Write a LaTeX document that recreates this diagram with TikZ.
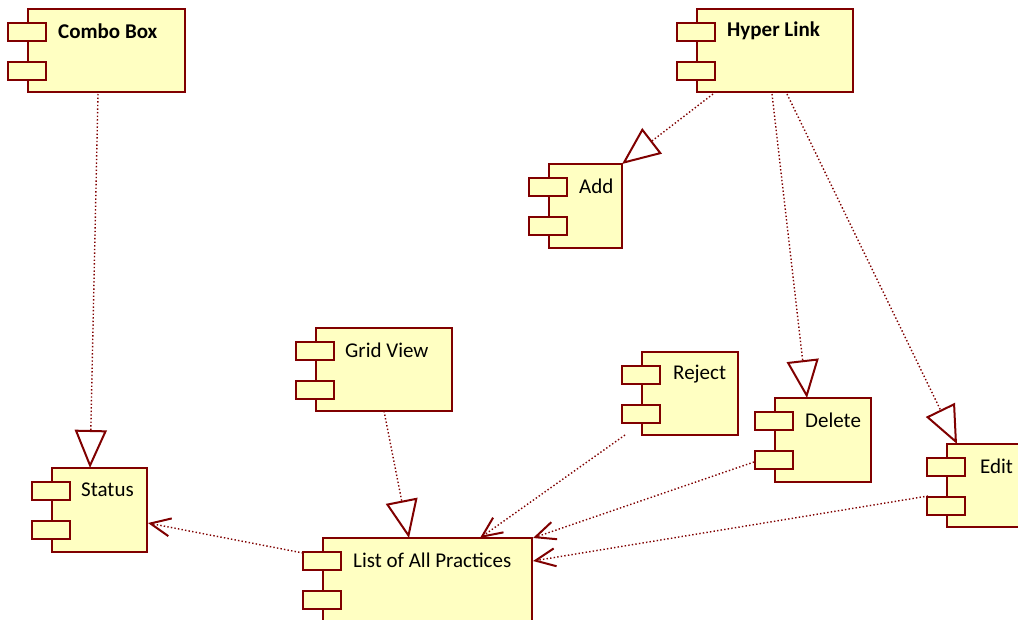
\documentclass[tikz,border=0pt]{standalone}
\usepackage{fontspec}
\setmainfont{Carlito}
\usetikzlibrary{arrows.meta,calc}
\definecolor{umlred}{RGB}{128,0,0}
\definecolor{umlfill}{RGB}{255,255,194}
\tikzset{
  compbox/.style={draw=umlred, fill=umlfill, line width=2pt, inner sep=0pt, outer sep=0pt, rectangle},
  portbox/.style={compbox, minimum width=38pt, minimum height=18pt},
  comptext/.style={inner sep=0pt, anchor=west, font=\fontsize{21}{25}\selectfont},
  dep/.style={draw=umlred, line width=1.4pt, dash pattern=on 1.4pt off 2.2pt},
  realize/.style={dep, -{Triangle[open, length=38pt, width=32pt, line width=2pt]}},
  usedep/.style={dep, -{Straight Barb[length=20pt, width=18pt, line width=2pt]}},
}
\newcommand{\umlcomp}[8][30]{%
  \node[compbox, minimum width=#5pt, minimum height=#6pt, anchor=north west] (#2) at (#3,#4) {};
  \node[portbox, anchor=north west] (#2-p1) at ($(#2.north west)+(-20,14)$) {};
  \node[portbox, anchor=north west] (#2-p2) at ($(#2.north west)+(-20,53)$) {};
  \node[comptext] (#2-t) at ($(#2.north west)+(#1,22)$) {#8#7};
}
\begin{document}
\begin{tikzpicture}[x=1pt, y=-1pt]
  \clip (0,0) rectangle (1018,619);
  \fill[white] (0,0) rectangle (1018,619);
  \umlcomp{combo}{28}{9}{157}{83}{Combo Box}{\bfseries}
  \umlcomp{hyper}{697}{9}{156}{83}{Hyper Link}{\bfseries}
  \umlcomp{add}{549}{164}{73}{84}{Add}{}
  \umlcomp[29]{status}{52}{468}{95}{84}{Status}{}
  \umlcomp[29]{grid}{316}{328}{136}{83}{Grid View}{}
  \umlcomp[31]{reject}{642}{352}{96}{83}{Reject}{}
  \umlcomp{delete}{775}{398}{96}{84}{Delete}{}
  \umlcomp[33]{edit}{947}{444}{100}{83}{Edit}{}
  \umlcomp{list}{323}{538}{209}{100}{List of All Practices}{}

  \draw[realize] ($(combo.south)+(-8.5,2)$) -- ($(status.north)+(-9.5,0)$);
  \draw[realize] ($(hyper.south west)+(16,2)$) -- (add.north east);
  \draw[realize] ($(hyper.south)+(-3,2)$) -- ($(delete.north)+(-16,0)$);
  \draw[realize] ($(hyper.south)+(12,2)$) -- ($(edit.north west)+(10,0)$);
  \draw[realize] (grid.south) -- ($(list.north west)+(86,0)$);
  \draw[usedep] ($(reject.south west)+(-17,0)$) -- ($(list.north west)+(157,0)$);
  \draw[usedep] ($(delete-p2.west)+(-1,2)$) -- ($(list.north east)+(1,0)$);
  \draw[usedep] ($(edit-p2.north west)+(1,-1)$) -- ($(list.north east)+(1,23)$);
  \draw[usedep] ($(list-p1.north west)+(0,1)$) -- ($(status.east)+(1,13)$);
\end{tikzpicture}
\end{document}
